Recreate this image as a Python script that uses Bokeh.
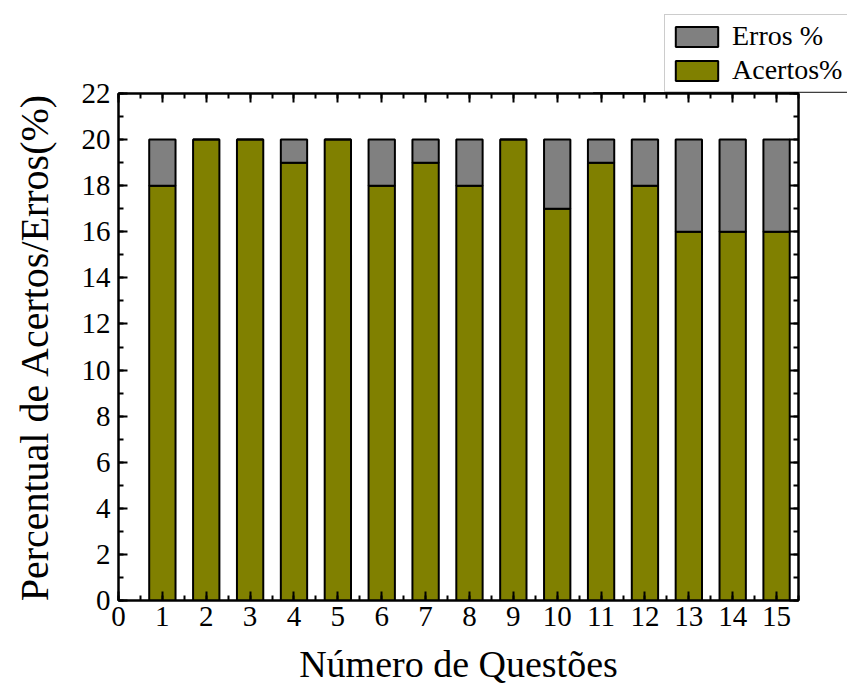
from bokeh.plotting import figure
from bokeh.layouts import column
from bokeh.models import (ColumnDataSource, LinearAxis, SingleIntervalTicker, Range1d,
                          Legend, LegendItem, CustomJSTickFormatter)
from bokeh.embed import file_html
from bokeh.resources import INLINE

questoes = [1, 2, 3, 4, 5, 6, 7, 8, 9, 10, 11, 12, 13, 14, 15]
acertos = [18, 20, 20, 19, 20, 18, 19, 18, 20, 17, 19, 18, 16, 16, 16]
erros = [2, 0, 0, 1, 0, 2, 1, 2, 0, 3, 1, 2, 4, 4, 4]
series_labels = ["Acertos%", "Erros %"]
series_colors = ["#808000", "#808080"]

FONT = "Liberation Serif"

src = ColumnDataSource(dict(x=questoes, acertos=acertos, erros=erros))

LEG_H = 93
OVERLAP = 17
p = figure(width=847, height=697 - LEG_H + OVERLAP, output_backend="svg", toolbar_location=None,
           x_range=Range1d(0, 15.5), y_range=Range1d(0, 22),
           min_border_left=118, min_border_right=49, min_border_top=OVERLAP, min_border_bottom=97,
           x_axis_location=None, y_axis_location=None)
p.margin = (-OVERLAP, 0, 0, 0)
p.grid.visible = False
p.outline_line_color = "black"
p.outline_line_width = 2
p.background_fill_color = "white"
p.border_fill_alpha = 0

r = p.vbar_stack(["acertos", "erros"], x="x", width=0.6, source=src,
                 color=series_colors, line_color="black", line_width=2)


def mk_axis(interval, labels=True):
    ax = LinearAxis(ticker=SingleIntervalTicker(interval=interval, num_minor_ticks=2))
    ax.axis_line_width = 2
    ax.axis_line_color = "black"
    ax.major_tick_in = 9
    ax.major_tick_out = 0
    ax.minor_tick_in = 5
    ax.minor_tick_out = 0
    ax.major_tick_line_width = 2
    ax.minor_tick_line_width = 2
    ax.major_label_text_font = FONT
    ax.major_label_text_font_size = "29px"
    ax.major_label_text_color = "black"
    ax.axis_label_text_font = FONT
    ax.axis_label_text_font_style = "normal"
    ax.axis_label_text_color = "black"
    if not labels:
        ax.formatter = CustomJSTickFormatter(code="return ''")
        ax.major_label_standoff = 0
    return ax


xb = mk_axis(1)
xb.axis_label = "Número de Questões"
xb.axis_label_text_font_size = "38px"
xb.major_label_standoff = 6
xb.axis_label_standoff = 14
p.add_layout(xb, "below")

yl = mk_axis(2)
yl.axis_label = "Percentual de Acertos/Erros(%)"
yl.axis_label_text_font_size = "40px"
yl.major_label_standoff = 8
yl.axis_label_standoff = 22
p.add_layout(yl, "left")

xt = mk_axis(1, labels=False)
p.add_layout(xt, "above")
yr = mk_axis(2, labels=False)
p.add_layout(yr, "right")

# Legend strip above the chart (its bars sit outside the visible y range)
lf = figure(width=847, height=LEG_H, output_backend="svg", toolbar_location=None,
            x_range=Range1d(0, 1), y_range=Range1d(1000, 1001),
            min_border=0, x_axis_location=None, y_axis_location=None)
lf.frame_align = False
lf.grid.visible = False
lf.outline_line_color = None
lf.border_fill_color = "white"
lr = lf.vbar_stack(["acertos", "erros"], x="x", width=0.6, source=src,
                   color=series_colors, line_color="black", line_width=2)

legend = Legend(items=[LegendItem(label=series_labels[1], renderers=[lr[1]]),
                       LegendItem(label=series_labels[0], renderers=[lr[0]])],
                location=(664, 1))
legend.label_text_font = FONT
legend.label_text_font_size = "28px"
legend.label_text_color = "black"
legend.label_height = 26
legend.glyph_width = 53
legend.glyph_height = 25
legend.label_standoff = 9
legend.spacing = 2
legend.padding = 5
legend.margin = 0
legend.border_line_color = "#999999"
legend.border_line_width = 1
legend.background_fill_alpha = 1
lf.add_layout(legend, "center")

layout = column(lf, p, spacing=0)
open("out.html", "w").write(file_html(layout, INLINE))
